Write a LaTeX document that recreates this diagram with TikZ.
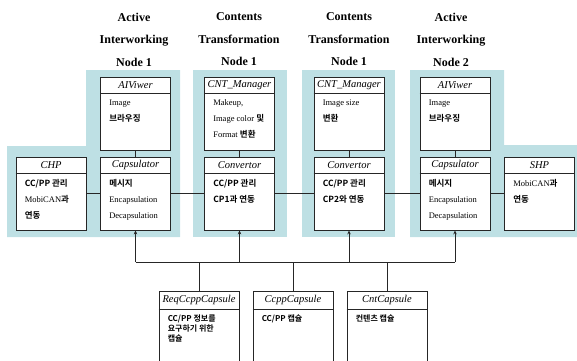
\documentclass[tikz,border=0pt]{standalone}
\usepackage{fontspec}
\setmainfont{Liberation Serif}
\newfontfamily\kr{Noto Sans CJK KR}[BoldFont={Noto Sans CJK KR Bold}]
\usetikzlibrary{arrows.meta}
\definecolor{cyanbg}{RGB}{190,224,228}
\newcommand{\K}[1]{{\kr\bfseries #1}}
\newcommand{\umlbox}[6]{%
  \node[box, minimum height=#4pt] (#1) at (#2,#3) {};
  \node[hdr, yshift=-8.5pt] (#1-t) at (#1.north) {#5};
  \draw[boxline] ([yshift=-17pt]#1.north west) -- ([yshift=-17pt]#1.north east);
  \node[bodytxt, xshift=9pt, yshift=-23pt] (#1-b) at (#1.north west) {#6};
}
\newcommand{\capbox}[4]{%
  \node[box, minimum width=80pt, minimum height=80pt] (#1) at (#2,331) {};
  \node[hdr, yshift=-9.5pt] (#1-t) at (#1.north) {#3};
  \draw[boxline] ([yshift=-19pt]#1.north west) -- ([yshift=-19pt]#1.north east);
  \node[smalltxt, xshift=9pt, yshift=-24pt] (#1-b) at (#1.north west) {#4};
}
\begin{document}
\begin{tikzpicture}[x=1pt, y=-1pt,
  box/.style={draw=black!85, line width=0.8pt, fill=white, inner sep=0pt, minimum width=70pt},
  boxline/.style={draw=black!85, line width=0.8pt},
  hdr/.style={font=\itshape\fontsize{10.5}{12}\selectfont, inner sep=0pt},
  bodytxt/.style={anchor=north west, inner sep=0pt, align=left, font=\fontsize{8.5}{16}\selectfont},
  smalltxt/.style={anchor=north west, inner sep=0pt, align=left, font=\fontsize{8}{10}\selectfont},
  title/.style={align=center, font=\bfseries\fontsize{12}{22.5}\selectfont, inner sep=0pt},
  conn/.style={draw=black!85, line width=0.8pt},
  arr/.style={conn, -{Stealth[length=4pt, width=3.5pt]}}
]
\useasboundingbox (0,0) rectangle (577,360);
\clip (0,0) rectangle (577,360);

% cyan backgrounds
\fill[cyanbg] (7,146) -- (86,146) -- (86,70) -- (180,70) -- (180,237) -- (7,237) -- cycle;
\fill[cyanbg] (193,70) rectangle (287,237);
\fill[cyanbg] (302,70) rectangle (395,237);
\fill[cyanbg] (410,70) -- (504,70) -- (504,145) -- (577,145) -- (577,237) -- (410,237) -- cycle;

% titles
\node[title] (t1) at (134,39.5) {Active\\Interworking\\Node 1};
\node[title] (t2) at (239,39.5) {Contents\\Transformation\\Node 1};
\node[title] (t3) at (349,39.5) {Contents\\Transformation\\Node 1};
\node[title] (t4) at (451,39.5) {Active\\Interworking\\Node 2};

% top row
\umlbox{aiv1}{135.5}{113.5}{73}{AIViwer}{Image\\\K{브라우징}}
\umlbox{cnt1}{239.5}{113.5}{73}{CNT\_Manager}{Makeup,\\Image color \K{및}\\Format \K{변환}}
\umlbox{cnt2}{349}{113.5}{73}{CNT\_Manager}{Image size\\\K{변환}}
\umlbox{aiv2}{455}{113.5}{73}{AIViwer}{Image\\\K{브라우징}}

% second row
\umlbox{chp}{51}{193.5}{73}{CHP}{\K{CC/PP 관리}\\MobiCAN\K{과}\\\K{연동}}
\umlbox{cap1}{135.5}{193.5}{73}{Capsulator}{\K{메시지}\\Encapsulation\\Decapsulation}
\umlbox{conv1}{239.5}{193.5}{73}{Convertor}{\K{CC/PP 관리}\\\K{CP1과 연동}}
\umlbox{conv2}{349}{193.5}{73}{Convertor}{\K{CC/PP 관리}\\\K{CP2와 연동}}
\umlbox{cap2}{455}{193.5}{73}{Capsulator}{\K{메시지}\\Encapsulation\\Decapsulation}
\umlbox{shp}{539.5}{193.5}{73}{SHP}{MobiCAN\K{과}\\\K{연동}}

% capsules
\capbox{req}{199}{ReqCcppCapsule}{\K{CC/PP 정보를}\\\K{요구하기 위한}\\\K{캡슐}}
\capbox{cpp}{293}{CcppCapsule}{\K{CC/PP 캡슐}}
\capbox{cnt}{387}{CntCapsule}{\K{컨텐츠 캡슐}}

% vertical links
\draw[conn] (aiv1.south) -- (cap1.north);
\draw[conn] (cnt1.south) -- (conv1.north);
\draw[conn] (cnt2.south) -- (conv2.north);
\draw[conn] (aiv2.south) -- (cap2.north);

% horizontal links
\draw[conn] (chp.east) -- (cap1.west);
\draw[conn] (cap1.east) -- (conv1.west);
\draw[conn] (conv1.east) -- (conv2.west);
\draw[conn] (conv2.east) -- (cap2.west);
\draw[conn] (cap2.east) -- (shp.west);

% bus
\coordinate (b1) at (135.5,262);
\coordinate (b2) at (239.5,262);
\coordinate (b3) at (349,262);
\coordinate (b4) at (455,262);
\draw[conn] (b1) -- (b4);
\draw[arr] (b1) -- (cap1.south);
\draw[arr] (b2) -- (conv1.south);
\draw[arr] (b3) -- (conv2.south);
\draw[arr] (b4) -- (cap2.south);
\draw[conn] (req.north) -- (req.north |- b1);
\draw[conn] (cpp.north) -- (cpp.north |- b1);
\draw[conn] (cnt.north) -- (cnt.north |- b1);
\end{tikzpicture}
\end{document}
